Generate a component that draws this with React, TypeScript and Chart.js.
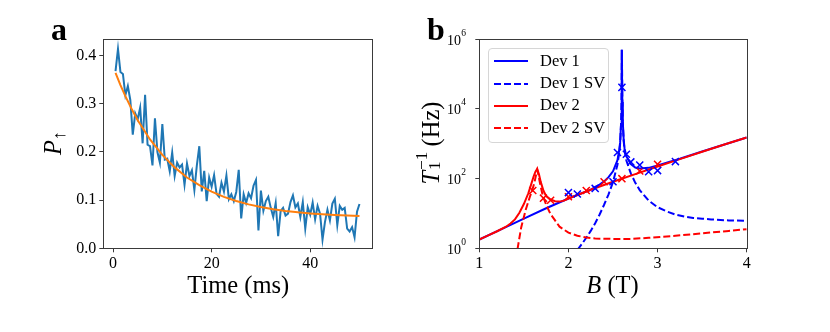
import React, { useEffect, useRef } from 'react';
import { Chart, registerables } from 'chart.js';
Chart.register(...registerables);

// ---------- Panel a data ----------
const timeMs = [
  0.5, 1, 1.5, 2, 2.5, 3, 3.5, 4, 4.5, 5, 5.5, 6, 6.5, 7, 7.5, 8, 8.5, 9, 9.5, 10,
  10.5, 11, 11.5, 12, 12.5, 13, 13.5, 14, 14.5, 15, 15.5, 16, 16.5, 17, 17.5, 18, 18.5, 19, 19.5, 20,
  20.5, 21, 21.5, 22, 22.5, 23, 23.5, 24, 24.5, 25, 25.5, 26, 26.5, 27, 27.5, 28, 28.5, 29, 29.5, 30,
  30.5, 31, 31.5, 32, 32.5, 33, 33.5, 34, 34.5, 35, 35.5, 36, 36.5, 37, 37.5, 38, 38.5, 39, 39.5, 40,
  40.5, 41, 41.5, 42, 42.5, 43, 43.5, 44, 44.5, 45, 45.5, 46, 46.5, 47, 47.5, 48, 48.5, 49, 49.5, 50,
];
const pUp = [
  0.368, 0.414, 0.366, 0.362, 0.318, 0.337, 0.308, 0.236, 0.280, 0.268, 0.292, 0.218, 0.319, 0.215, 0.212, 0.172, 0.270, 0.200, 0.178, 0.258,
  0.184, 0.186, 0.160, 0.199, 0.150, 0.178, 0.168, 0.174, 0.132, 0.176, 0.150, 0.162, 0.121, 0.172, 0.212, 0.118, 0.161, 0.098, 0.147, 0.128,
  0.152, 0.113, 0.107, 0.136, 0.118, 0.151, 0.102, 0.112, 0.098, 0.117, 0.163, 0.062, 0.112, 0.094, 0.114, 0.104, 0.130, 0.142, 0.037, 0.120,
  0.078, 0.098, 0.107, 0.084, 0.065, 0.094, 0.025, 0.077, 0.084, 0.068, 0.072, 0.096, 0.110, 0.085, 0.093, 0.065, 0.096, 0.041, 0.085, 0.070,
  0.095, 0.060, 0.088, 0.072, 0.018, 0.055, 0.080, 0.058, 0.093, 0.103, 0.048, 0.088, 0.080, 0.084, 0.041, 0.035, 0.044, 0.023, 0.076, 0.092,
];
const fitTime = [0.5, 1.5, 2.5, 3.75, 5, 7.5, 10, 12.5, 15, 17.5, 20, 22.5, 25, 27.5, 30, 32.5, 35, 37.5, 40, 42.5, 45, 47.5, 50];
const fitValues = [0.3645, 0.339, 0.316, 0.2897, 0.266, 0.226, 0.194, 0.168, 0.147, 0.131, 0.1175, 0.1068, 0.0982, 0.0912, 0.0857, 0.0812, 0.0776, 0.0747, 0.0724, 0.0706, 0.0691, 0.0679, 0.0669];
const aTicksX = [0, 20, 40];
const aTicksY = [0, 0.1, 0.2, 0.3, 0.4];

// ---------- Panel b data ----------
const dev1B = [1.0, 1.25, 1.5, 1.75, 2.0, 2.25, 2.3, 2.35, 2.4, 2.45, 2.5, 2.55, 2.57, 2.58, 2.59, 2.595, 2.6, 2.605, 2.61, 2.62, 2.63, 2.65, 2.7, 2.75, 2.8, 2.9, 3.0, 3.25, 3.5, 3.75, 4.0];
const dev1Rate = [1.78, 3.55, 7.08, 14.1, 26.9, 47.9, 58.2, 67.6, 83.2, 110, 162, 339, 661, 1096, 3631, 14125, 501187, 15849, 4266, 1288, 724, 437, 263, 209, 195, 204, 240, 372, 603, 955, 1514];

const dev1SvB = [2.1, 2.15, 2.2, 2.25, 2.3, 2.35, 2.4, 2.45, 2.5, 2.55, 2.57, 2.58, 2.59, 2.595, 2.6, 2.605, 2.61, 2.62, 2.63, 2.65, 2.7, 2.75, 2.8, 2.9, 3.0, 3.1, 3.2, 3.3, 3.4, 3.5, 3.6, 3.8, 4.0];
const dev1SvRate = [0.89, 1.32, 2.0, 3.16, 5.25, 9.33, 17.8, 35.5, 79.4, 251, 562, 1000, 3548, 14125, 501187, 15849, 4169, 1202, 631, 331, 141, 75.9, 46.8, 23.4, 15.1, 11.5, 9.33, 8.13, 7.41, 7.08, 6.76, 6.31, 6.17];

const dev2B = [1.0, 1.1, 1.2, 1.3, 1.35, 1.4, 1.45, 1.5, 1.55, 1.58, 1.61, 1.63, 1.65, 1.67, 1.69, 1.72, 1.75, 1.8, 1.85, 1.9, 1.95, 2.0, 2.25, 2.5, 2.75, 3.0, 3.25, 3.5, 3.75, 4.0];
const dev2Rate = [1.78, 2.34, 3.09, 4.17, 5.13, 6.76, 10.5, 18.6, 38.0, 66.1, 117, 158, 191, 132, 79.4, 44.7, 31.6, 25.1, 22.4, 21.9, 23.4, 26.9, 47.9, 81.3, 135, 224, 363, 589, 955, 1514];

const dev2SvB = [1.4, 1.43, 1.47, 1.52, 1.57, 1.6, 1.62, 1.64, 1.65, 1.66, 1.68, 1.71, 1.75, 1.8, 1.85, 1.9, 2.0, 2.1, 2.2, 2.3, 2.5, 2.7, 2.9, 3.2, 3.5, 3.8, 4.0];
const dev2SvRate = [0.5, 1.0, 3.98, 12.6, 31.6, 52.5, 79.4, 141, 178, 141, 75.9, 33.9, 17.8, 9.55, 6.31, 4.17, 2.82, 2.29, 2.04, 1.91, 1.86, 1.86, 2.0, 2.29, 2.69, 3.16, 3.55];

const dev1MeasB = [2.0, 2.1, 2.3, 2.5, 2.55, 2.6, 2.65, 2.7, 2.8, 2.9, 3.0, 3.2];
const dev1MeasRate = [39.8, 36.3, 52.5, 81.3, 562, 41687, 501, 302, 245, 158, 170, 309];
const dev2MeasB = [1.6, 1.72, 1.8, 2.0, 2.2, 2.4, 2.6, 2.8, 3.0];
const dev2MeasRate = [45.7, 27.5, 24.0, 30.2, 45.7, 81.3, 100, 166, 257];

const bTicksX = [1, 2, 3, 4];
const bTicksY = [1, 1e2, 1e4, 1e6];
const bTickExp = ['0', '2', '4', '6'];

const legendItems = [
  { label: 'Dev 1', color: '#0000ff', dashed: false },
  { label: 'Dev 1 SV', color: '#0000ff', dashed: true },
  { label: 'Dev 2', color: '#ff0000', dashed: false },
  { label: 'Dev 2 SV', color: '#ff0000', dashed: true },
];

// ---------- layout ----------
const W = 830;
const H = 332;
const SERIF = '"Liberation Serif", "DejaVu Serif", "Times New Roman", serif';
const AX = { left: 103.3, right: 371.7, top: 39.3, bottom: 248.3 };
const BX = { left: 479.3, right: 746.7, top: 39.3, bottom: 248.3 };
const SPINE = '#3a3a3a';

const zip = (xs: number[], ys: number[]) => xs.map((x, i) => ({ x, y: ys[i] }));

const framePlugin = {
  id: 'frame',
  afterDraw(chart: any) {
    const { ctx, chartArea: a } = chart;
    ctx.save();
    ctx.strokeStyle = SPINE;
    ctx.lineWidth = 1;
    const l = Math.round(a.left) + 0.5;
    const t = Math.round(a.top) + 0.5;
    const r = Math.round(a.right) + 0.5;
    const b = Math.round(a.bottom) + 0.5;
    ctx.strokeRect(l, t, r - l, b - t);
    ctx.restore();
  },
};

const logLabelPlugin = {
  id: 'logLabels',
  afterDraw(chart: any) {
    const { ctx } = chart;
    const ys = chart.scales.y;
    const xRight = 466;
    ctx.save();
    ctx.fillStyle = '#000';
    ctx.textBaseline = 'alphabetic';
    bTicksY.forEach((v, i) => {
      const py = ys.getPixelForValue(v);
      ctx.font = `9.5px ${SERIF}`;
      ctx.textAlign = 'right';
      const ew = ctx.measureText(bTickExp[i]).width;
      ctx.fillText(bTickExp[i], xRight, py - 3.5);
      ctx.font = `14px ${SERIF}`;
      ctx.fillText('10', xRight - ew - 0.3, py + 5.5);
    });
    ctx.restore();
  },
};

function fixAxis(size: number) {
  return (scale: any) => {
    if (scale.isHorizontal()) scale.height = size;
    else scale.width = size;
  };
}

function tickSetter(vals: number[]) {
  return (scale: any) => {
    scale.ticks = vals.map((v) => ({ value: v }));
  };
}

const gridOpts = {
  display: true,
  drawOnChartArea: false,
  drawTicks: true,
  tickLength: 4,
  color: SPINE,
  lineWidth: 1,
};

function makeA(canvas: HTMLCanvasElement) {
  return new Chart(canvas, {
    type: 'line',
    data: {
      datasets: [
        {
          data: zip(fitTime, fitValues),
          borderColor: '#ff7f0e',
          borderWidth: 2,
          pointRadius: 0,
          tension: 0,
          fill: false,
          order: 0,
        },
        {
          data: zip(timeMs, pUp),
          borderColor: '#1f77b4',
          borderWidth: 2,
          pointRadius: 0,
          tension: 0,
          fill: false,
          order: 1,
        },
      ],
    },
    options: {
      responsive: false,
      animation: false,
      events: [],
      layout: { padding: { left: 0, top: AX.top, right: W - AX.right, bottom: 0 } },
      plugins: { legend: { display: false }, tooltip: { enabled: false } },
      scales: {
        x: {
          type: 'linear',
          min: -1.98,
          max: 52.48,
          afterFit: fixAxis(H - AX.bottom),
          afterBuildTicks: tickSetter(aTicksX),
          grid: gridOpts,
          border: { display: false },
          ticks: {
            autoSkip: false,
            maxRotation: 0,
            padding: 2,
            color: '#000',
            font: { family: SERIF, size: 16 },
            callback: (v: any) => String(v),
          },
        },
        y: {
          type: 'linear',
          min: 0,
          max: 0.434,
          afterFit: fixAxis(AX.left),
          afterBuildTicks: tickSetter(aTicksY),
          grid: gridOpts,
          border: { display: false },
          ticks: {
            autoSkip: false,
            padding: 3,
            color: '#000',
            font: { family: SERIF, size: 16 },
            callback: (v: any) => Number(v).toFixed(1),
          },
        },
      },
    },
    plugins: [framePlugin],
  } as any);
}

function makeB(canvas: HTMLCanvasElement) {
  const line = (xs: number[], ys: number[], color: string, dashed: boolean, order: number) => ({
    data: zip(xs, ys),
    borderColor: color,
    borderWidth: 2,
    borderDash: dashed ? [7, 3] : [],
    pointRadius: 0,
    tension: 0,
    fill: false,
    order,
  });
  const marks = (xs: number[], ys: number[], color: string, order: number) => ({
    data: zip(xs, ys),
    showLine: false,
    borderColor: color,
    backgroundColor: color,
    pointStyle: 'crossRot',
    pointRadius: 5,
    pointBorderWidth: 1.5,
    order,
  });
  return new Chart(canvas, {
    type: 'line',
    data: {
      datasets: [
        line(dev1B, dev1Rate, '#0000ff', false, 5),
        line(dev1SvB, dev1SvRate, '#0000ff', true, 4),
        line(dev2B, dev2Rate, '#ff0000', false, 2),
        line(dev2SvB, dev2SvRate, '#ff0000', true, 3),
        marks(dev1MeasB, dev1MeasRate, '#0000ff', 0),
        marks(dev2MeasB, dev2MeasRate, '#ff0000', 1),
      ],
    },
    options: {
      responsive: false,
      animation: false,
      events: [],
      layout: { padding: { left: 0, top: BX.top, right: W - BX.right, bottom: 0 } },
      plugins: { legend: { display: false }, tooltip: { enabled: false } },
      scales: {
        x: {
          type: 'linear',
          min: 1,
          max: 4,
          afterFit: fixAxis(H - BX.bottom),
          afterBuildTicks: tickSetter(bTicksX),
          grid: gridOpts,
          border: { display: false },
          ticks: {
            autoSkip: false,
            maxRotation: 0,
            padding: 2,
            color: '#000',
            font: { family: SERIF, size: 16 },
            callback: (v: any) => String(v),
          },
        },
        y: {
          type: 'logarithmic',
          min: 1,
          max: 1e6,
          afterFit: fixAxis(BX.left),
          afterBuildTicks: tickSetter(bTicksY),
          grid: gridOpts,
          border: { display: false },
          ticks: {
            autoSkip: false,
            padding: 3,
            color: 'rgba(0,0,0,0)',
            font: { family: SERIF, size: 14 },
            callback: () => '',
          },
        },
      },
    },
    plugins: [framePlugin, logLabelPlugin],
  } as any);
}

const textBase: React.CSSProperties = {
  position: 'absolute',
  fontFamily: SERIF,
  color: '#000',
  lineHeight: 1,
  whiteSpace: 'nowrap',
};

export default function App() {
  const refA = useRef<HTMLCanvasElement>(null);
  const refB = useRef<HTMLCanvasElement>(null);
  useEffect(() => {
    const a = makeA(refA.current!);
    const b = makeB(refB.current!);
    return () => {
      a.destroy();
      b.destroy();
    };
  }, []);

  const rowY = [12.4, 34.6, 56.8, 79];

  return (
    <div style={{ position: 'absolute', left: 0, top: 0, width: W, height: H, background: '#fff', overflow: 'hidden' }}>
      <canvas ref={refA} width={W} height={H} style={{ position: 'absolute', left: 0, top: 0, width: W, height: H }} />
      <canvas ref={refB} width={W} height={H} style={{ position: 'absolute', left: 0, top: 0, width: W, height: H }} />

      {/* panel letters */}
      <div style={{ ...textBase, left: 51, top: 40 - 0.8375 * 32, fontSize: 32, fontWeight: 'bold' }}>a</div>
      <div style={{ ...textBase, left: 427, top: 40 - 0.8375 * 32, fontSize: 32, fontWeight: 'bold' }}>b</div>

      {/* x axis titles */}
      <div style={{ ...textBase, left: 238.3, top: 293.3 - 0.8375 * 24.5, fontSize: 24.5, transform: 'translateX(-50%)' }}>
        Time (ms)
      </div>
      <div style={{ ...textBase, left: 612.5, top: 293.3 - 0.8375 * 24.5, fontSize: 24.5, transform: 'translateX(-50%)' }}>
        <span style={{ fontStyle: 'italic' }}>B</span> (T)
      </div>

      {/* y axis titles (rotated) */}
      <div
        style={{
          ...textBase,
          left: 53,
          top: 143,
          fontSize: 24.5,
          transform: 'translate(-50%, -50%) rotate(-90deg)',
        }}
      >
        <span style={{ fontStyle: 'italic' }}>P</span>
        <span style={{ fontSize: '0.72em', position: 'relative', top: '0.25em' }}>↑</span>
      </div>
      <div
        style={{
          ...textBase,
          left: 429,
          top: 143,
          fontSize: 24.5,
          transform: 'translate(-50%, -50%) rotate(-90deg)',
        }}
      >
        <span style={{ fontStyle: 'italic' }}>T</span>
        <span style={{ display: 'inline-block', position: 'relative', width: '0.75em', height: '1em', verticalAlign: 'baseline' }}>
          <span style={{ position: 'absolute', left: '0.05em', top: '-0.1em', fontSize: '0.7em' }}>−1</span>
          <span style={{ position: 'absolute', left: '0.05em', top: '0.62em', fontSize: '0.7em' }}>1</span>
        </span>
        {' (Hz)'}
      </div>

      {/* legend */}
      <div
        style={{
          position: 'absolute',
          left: 488,
          top: 48,
          width: 121,
          height: 95,
          boxSizing: 'border-box',
          border: '1px solid #d6d6d6',
          borderRadius: 4,
          background: 'rgba(255,255,255,0.8)',
        }}
      >
        {legendItems.map((it, i) => (
          <React.Fragment key={it.label}>
            <svg width={36} height={6} style={{ position: 'absolute', left: 5, top: rowY[i] - 3 }}>
              <line
                x1={0}
                y1={3}
                x2={34}
                y2={3}
                stroke={it.color}
                strokeWidth={2}
                strokeDasharray={it.dashed ? '7 3' : undefined}
              />
            </svg>
            <div style={{ ...textBase, left: 51, top: rowY[i] - 8.5, fontSize: 16.5 }}>{it.label}</div>
          </React.Fragment>
        ))}
      </div>
    </div>
  );
}
